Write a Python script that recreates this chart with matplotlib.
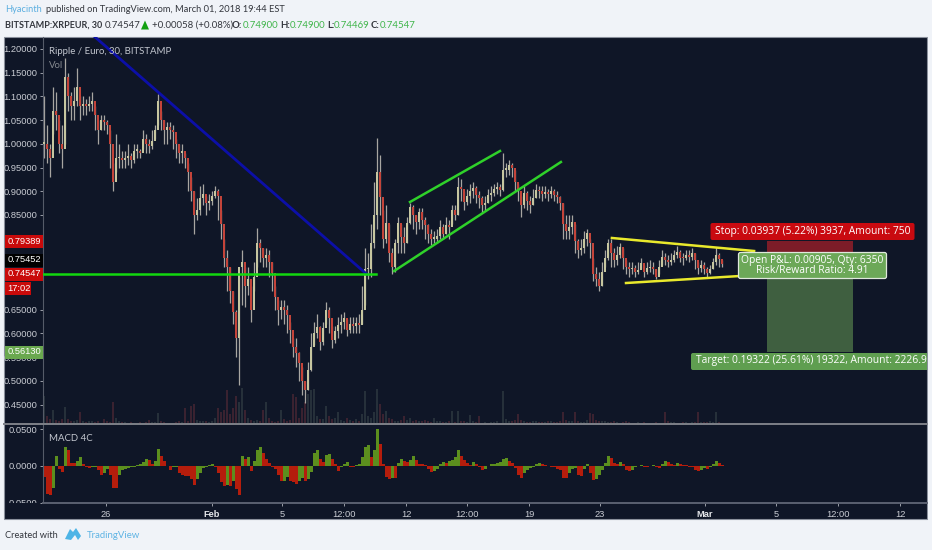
import matplotlib
matplotlib.use("Agg")
import matplotlib.pyplot as plt
import numpy as np
from matplotlib.patches import Rectangle, FancyBboxPatch, Polygon
from matplotlib.transforms import Affine2D, Bbox

W, H = 932, 550
BAR_PX, BAR0_PX = 3.0, 44.0

closes = [1.00,.99,.97,1.07,1.06,1.00,.99,1.14,1.10,1.08,
 1.09,1.12,1.08,1.085,1.08,1.085,1.09,1.06,1.03,1.05,
 1.045,1.04,1.00,.92,.97,.97,.965,.97,.975,.965,
 .985,.985,.98,1.01,1.00,.995,1.005,1.03,1.09,1.05,
 1.03,1.035,1.03,1.025,1.00,.98,.985,.97,.94,.90,
 .85,.86,.885,.895,.875,.88,.89,.90,.89,.83,
 .76,.74,.69,.645,.59,.74,.75,.70,.715,.65,
 .72,.79,.78,.76,.765,.75,.727,.677,.65,.656,
 .65,.639,.607,.571,.558,.537,.50,.48,.523,.571,
 .60,.614,.582,.612,.65,.633,.586,.605,.618,.625,
 .633,.607,.62,.615,.622,.618,.65,.735,.735,.79,
 .85,.94,.888,.80,.833,.77,.74,.79,.833,.803,
 .79,.833,.867,.85,.835,.856,.84,.829,.81,.80,
 .80,.805,.825,.81,.829,.825,.86,.85,.909,.905,
 .877,.89,.90,.907,.892,.885,.871,.875,.892,.896,
 .905,.909,.903,.945,.945,.955,.949,.92,.90,.87,
 .896,.88,.871,.885,.903,.90,.895,.899,.895,.90,
 .892,.888,.875,.83,.815,.825,.835,.795,.775,.78,
 .80,.812,.79,.725,.715,.70,.73,.76,.79,.77,
 .755,.765,.782,.76,.74,.735,.738,.73,.734,.749,
 .73,.738,.74,.735,.72,.74,.762,.755,.751,.755,
 .765,.772,.76,.759,.765,.762,.77,.755,.738,.744,
 .735,.727,.735,.75,.765,.757,.74547]
highs = [1.10,1.04,1.00,1.12,1.11,1.05,1.04,1.18,1.15,1.11,
 1.12,1.16,1.10,1.10,1.095,1.10,1.11,1.08,1.05,1.06,
 1.06,1.05,1.03,.96,1.02,1.00,.985,.985,1.00,.98,
 1.00,1.00,.99,1.03,1.02,1.01,1.03,1.04,1.105,1.07,
 1.05,1.045,1.045,1.04,1.01,1.00,1.00,.98,.96,.93,
 .90,.885,.91,.915,.89,.895,.90,.91,.905,.86,
 .80,.776,.74,.69,.65,.72,.775,.74,.74,.70,
 .75,.822,.80,.78,.78,.775,.75,.70,.67,.67,
 .67,.66,.625,.59,.59,.56,.53,.50,.54,.60,
 .625,.64,.615,.625,.667,.655,.615,.615,.635,.64,
 .645,.63,.635,.635,.635,.64,.70,.78,.77,.83,
 .92,1.012,.976,.86,.87,.83,.78,.80,.845,.83,
 .825,.845,.875,.87,.85,.865,.865,.845,.83,.82,
 .815,.82,.84,.83,.845,.84,.87,.87,.93,.925,
 .90,.905,.915,.92,.91,.90,.89,.89,.905,.91,
 .915,.92,.915,.98,.96,.965,.96,.945,.915,.89,
 .91,.90,.89,.905,.915,.912,.91,.91,.905,.912,
 .905,.90,.89,.875,.85,.85,.85,.83,.80,.80,
 .815,.82,.80,.76,.74,.73,.75,.775,.80,.80,
 .78,.785,.79,.78,.755,.75,.75,.745,.75,.76,
 .745,.75,.755,.75,.735,.755,.775,.77,.765,.77,
 .775,.785,.775,.77,.775,.775,.78,.77,.75,.755,
 .75,.74,.745,.76,.782,.77,.755]
lows = [.97,.96,.93,1.02,1.03,.98,.95,1.00,1.07,1.05,
 1.05,1.08,1.05,1.06,1.06,1.07,1.07,1.03,1.00,1.03,
 1.03,1.02,.95,.90,.94,.95,.95,.95,.955,.95,
 .96,.97,.97,.99,.98,.98,.99,1.01,1.04,1.03,
 1.00,1.00,1.01,.99,.97,.96,.96,.95,.90,.88,
 .81,.84,.85,.87,.85,.86,.87,.885,.84,.80,
 .74,.69,.665,.62,.55,.492,.66,.655,.68,.624,
 .69,.74,.75,.74,.74,.72,.69,.65,.618,.63,
 .62,.60,.58,.55,.53,.50,.47,.453,.48,.52,
 .575,.59,.565,.575,.62,.60,.57,.58,.59,.60,
 .61,.595,.60,.60,.60,.60,.62,.66,.715,.72,
 .78,.82,.85,.78,.79,.75,.725,.73,.77,.77,
 .77,.79,.83,.82,.81,.82,.82,.80,.79,.787,
 .79,.79,.80,.80,.81,.80,.83,.84,.85,.88,
 .86,.87,.875,.885,.875,.865,.856,.86,.875,.88,
 .89,.895,.89,.90,.93,.935,.93,.90,.88,.846,
 .865,.86,.855,.87,.885,.885,.88,.885,.88,.885,
 .88,.875,.86,.80,.80,.80,.81,.77,.76,.765,
 .77,.785,.76,.71,.70,.69,.70,.74,.755,.74,
 .74,.745,.76,.735,.725,.72,.725,.72,.725,.735,
 .72,.725,.73,.725,.715,.725,.745,.745,.74,.745,
 .75,.76,.75,.745,.755,.75,.755,.735,.725,.73,
 .725,.72,.725,.735,.745,.74,.74]
volumes = [28,8,5,14,4,3,5,17,5,3,
 3,4,12,3,2,3,3,2,3,1,
 5,3,2,22,6,3,2,2,1,2,
 1,1,2,1,2,4,2,2,11,3,
 2,1,1,1,2,3,2,16,3,18,
 20,4,3,3,3,2,3,6,16,12,
 14,34,10,16,28,22,36,14,6,4,
 3,4,3,14,22,6,3,2,3,14,
 5,3,4,30,27,6,16,22,30,34,
 35,8,5,5,18,8,5,6,12,4,
 3,6,4,3,5,3,10,33,8,6,
 12,35,20,10,13,6,5,3,3,4,
 8,4,6,3,4,3,3,4,3,2,
 6,3,3,2,2,3,13,2,13,3,
 3,2,9,3,2,8,1,2,1,2,
 2,3,1,33,5,3,3,4,10,4,
 3,2,2,3,3,2,2,2,3,3,
 2,2,3,12,4,3,3,12,3,2,
 2,4,11,10,4,3,3,3,2,2,
 3,2,1,2,3,2,1,1,2,1,
 2,1,1,1,2,1,1,12,3,2,
 2,1,1,2,2,1,2,2,12,2,
 2,2,3,2,12,2,1]
macd = [-.015,-.038,-.040,-.030,.013,-.004,-.008,.026,.022,.004,
 .004,.007,.012,.002,-.002,-.003,-.002,-.001,-.005,-.013,
 -.010,-.004,-.012,-.030,-.030,-.012,-.005,-.004,-.003,-.002,
 -.001,.001,.003,.005,.009,.008,.002,.006,.023,.014,
 .006,.000,-.005,-.002,-.001,-.010,-.013,-.014,-.014,-.018,
 -.026,-.018,-.010,-.003,-.001,.001,.002,-.002,-.010,-.022,
 -.027,-.026,-.027,-.020,-.032,-.040,.014,.009,.012,-.007,
 .006,.022,.025,.018,.010,.004,-.002,-.004,-.012,-.021,
 -.020,-.015,-.020,-.022,-.025,-.020,-.016,-.021,-.018,-.008,
 .018,.021,.010,.005,.015,.016,.010,.002,-.007,-.002,
 .002,.005,-.001,-.002,.001,.002,.012,.026,.028,.012,
 .022,.050,.030,.002,-.015,-.018,-.016,-.016,.004,.010,
 .006,.005,.008,.014,.008,.002,.002,.001,-.004,-.008,
 -.007,-.004,.002,.005,.004,.006,.008,.012,.021,.014,
 .008,.004,.001,.005,.002,-.001,-.005,-.004,.000,.002,
 .003,.004,.005,.010,.011,.006,.004,-.003,-.012,-.017,
 -.010,-.005,-.003,-.001,.003,.004,.003,.001,.000,-.001,
 -.002,-.004,-.006,-.016,-.017,-.010,-.004,-.003,-.012,-.014,
 -.004,.003,-.010,-.019,-.018,-.012,-.006,.004,.013,.011,
 .004,.003,.005,.002,-.005,-.007,-.006,-.002,.000,.001,
 -.001,-.002,.000,.001,-.001,-.003,.002,.007,.005,.002,
 .001,.004,.002,.001,.001,-.001,-.002,-.005,-.007,-.005,
 -.003,-.004,-.002,.002,.006,.004,.001]

price_ticks = [1.20,1.15,1.10,1.05,1.00,.95,.90,.85,.65,.60,.55,.50,.45]
macd_ticks = [.05,0.0,-.05]
time_tick_bars = [20.67,56,79.33,100,120.67,141,161.67,185.33,220.33,244,264.67,285.33]
time_tick_labels = ['26','Feb','5','12:00','12','12:00','19','23','Mar','5','12:00','12']

blue_bars, blue_prices = [17.0,107.5], [1.2253,.7253]
level_bars, level_prices = [-0.5,110.5], [.7253,.7253]
chan_low_bars, chan_low_prices = [116.7,172.3], [.7316,.9616]
chan_up_bars, chan_up_prices = [122,152], [.8772,.9848]
wedge_up_bars, wedge_up_prices = [189.3,236.7], [.8013,.7738]
wedge_low_bars, wedge_low_prices = [194,232], [.7063,.7211]
pos_bars = [241,269.7]
stop_price, entry_price, target_price = .79389, .75452, .56130

BG, CHART, GRID = '#f0f3f8', '#0f1627', '#555b68'
TXT = '#c9ccd3'
NARROW = ['Lato', 'DejaVu Sans']
ARIAL = ['Liberation Sans', 'DejaVu Sans']
plt.rcParams['font.family'] = ['Open Sans', 'DejaVu Sans']

fig = plt.figure(figsize=(W/100, H/100), dpi=100, facecolor=BG)
px = Affine2D().scale(1/W, -1/H).translate(0, 1) + fig.transFigure

def axes_px(x0, y0, x1, y1, **kw):
    return fig.add_axes([x0/W, 1-y1/H, (x1-x0)/W, (y1-y0)/H], **kw)

fig.add_artist(Rectangle((4, 37), 923, 482, transform=px, fc=CHART, ec='#8a909c', lw=0.8, zorder=-5))

ax = axes_px(43, 37, 927, 423.5)
ax.set_facecolor('none')
xlim = ((43-BAR0_PX)/BAR_PX, (927-BAR0_PX)/BAR_PX)
ax.set_xlim(xlim)
ax.set_ylim(1.2-(423.5-49)/474, 1.2+12/474)

vol = axes_px(43, 37, 927, 423.5)
vol.set_facecolor('none')
vol.set_xlim(xlim); vol.set_ylim(0, 386.5); vol.axis('off')
vol.set_zorder(0); ax.set_zorder(1)

idx = np.arange(len(closes))
c = np.array(closes); o = np.r_[c[0], c[:-1]]
up = c >= o
vol.bar(idx, volumes, width=0.8, color=np.where(up, '#26303a', '#3a2230'), lw=0)

ax.vlines(idx, lows, highs, color='#a8a6a2', lw=0.9, zorder=2)
ax.bar(idx, np.abs(c-o).clip(.003), bottom=np.minimum(c, o), width=0.62,
       color=np.where(up, '#c6c6a0', '#c4443a'), lw=0, zorder=3)

ax.add_patch(Rectangle((pos_bars[0], entry_price), pos_bars[1]-pos_bars[0], stop_price-entry_price,
                       fc='#7c1c28', ec='none', zorder=4))
ax.add_patch(Rectangle((pos_bars[0], target_price), pos_bars[1]-pos_bars[0], entry_price-target_price,
                       fc='#3f5f40', ec='none', zorder=4))

ax.plot(blue_bars, blue_prices, color='#0c0fa8', lw=2.0, zorder=5)
ax.plot(level_bars, level_prices, color='#12d80f', lw=1.8, zorder=5)
ax.plot(chan_low_bars, chan_low_prices, color='#2fd12a', lw=1.8, zorder=5)
ax.plot(chan_up_bars, chan_up_prices, color='#2fd12a', lw=1.8, zorder=5)
ax.plot(wedge_up_bars, wedge_up_prices, color='#e9e92c', lw=1.8, zorder=5)
ax.plot(wedge_low_bars, wedge_low_prices, color='#e9e92c', lw=1.8, zorder=5)

ax.set_yticks(price_ticks)
ax.set_yticklabels([f'{v:.5f}' for v in price_ticks])
ax.set_xticks([])
ax.tick_params(axis='y', length=2, width=0.7, color='#9a9ea8', labelcolor=TXT, labelsize=6.7, pad=2)
for t in ax.get_yticklabels():
    t.set_fontfamily(ARIAL)
for s in ('top', 'right', 'bottom'):
    ax.spines[s].set_visible(False)
ax.spines['left'].set_color(GRID)

m = axes_px(43, 425, 927, 502.7)
m.set_facecolor('none')
m.set_xlim(xlim)
m.set_ylim(-.0497, .05+4/36.5*.05)
mv = np.array(macd)
rise = np.r_[False, np.diff(mv) > 0]
m.bar(idx, mv, width=1.0, color=np.where(rise, '#5c8f1e', '#b51d0c'), lw=0)
m.set_yticks(macd_ticks)
m.set_yticklabels([f'{abs(v):.4f}' for v in macd_ticks])
m.tick_params(axis='y', length=2, width=0.7, color='#9a9ea8', labelcolor=TXT, labelsize=6.7, pad=2)
clip = Bbox([[4, H-503.0], [44, H]])
for t in m.get_yticklabels():
    t.set_fontfamily(ARIAL)
    t.set_clip_box(clip)
    t.set_clip_on(True)
m.set_xticks(time_tick_bars)
m.set_xticklabels(time_tick_labels)
m.tick_params(axis='x', length=2, width=0.7, color='#9a9ea8', labelcolor=TXT, labelsize=6.7, pad=3)
for t in m.get_xticklabels():
    t.set_fontfamily(ARIAL)
    if t.get_text() in ('Feb', 'Mar'):
        t.set_fontweight('bold')
        t.set_color('#e4e6ea')
for s in ('top', 'right'):
    m.spines[s].set_visible(False)
m.spines['left'].set_color(GRID)
m.spines['bottom'].set_color('#5b6170')
m.spines['bottom'].set_linewidth(1.4)

fig.add_artist(plt.Line2D([4, 927], [424.3, 424.3], transform=px, color='#7d8088', lw=1.4))

def tx(x, y, s, color='#33363d', size=7.6, **kw):
    kw.setdefault('va', 'center')
    return fig.text(x, y, s, transform=px, color=color, fontsize=size, **kw)

def tag(y_center, text, fc, x1=42.5):
    fig.add_artist(Rectangle((5, y_center-6.5), x1-5, 13, transform=px, fc=fc, ec='none', zorder=6))
    tx(7.5, y_center, text, color='white', size=6.7, family=ARIAL, zorder=7)

tx(5, 10, 'Hyacinth', color='#5aaee0', size=6.7, family=NARROW)
tx(45.5, 10, 'published on TradingView.com, March 01, 2018 19:44 EST', size=6.65, family=NARROW)
tx(5, 25, 'BITSTAMP:XRPEUR, 30', size=6.45, fontweight='bold', family=NARROW)
tx(105, 25, '0.74547', size=6.9, family=NARROW)
fig.add_artist(Polygon([[141, 29.5], [149, 29.5], [145, 20.5]], transform=px, fc='#12a012', ec='none'))
tx(152, 25, '+0.00058 (+0.08%)', size=6.9, family=NARROW)
for xa, xb, lab, val in [(232, 243, 'O:', '0.74900'), (280, 290, 'H:', '0.74900'),
                         (327, 334, 'L:', '0.74469'), (371, 380, 'C:', '0.74547')]:
    tx(xa, 25, lab, size=6.9, fontweight='bold', family=NARROW)
    tx(xb, 25, val, color='#3fb54a', size=6.9, family=NARROW)

tx(49, 51, 'Ripple / Euro, 30, BITSTAMP', color='#c3c7cf', size=6.95, family=NARROW)
tx(49, 66, 'Vol', color='#85898f', size=6.95, family=NARROW)
tx(49, 438.5, 'MACD 4C', color='#c3c7cf', size=6.95, family=NARROW)

tag(241, '0.79389', '#c90a0a')
tag(260, '0.75452', '#000000')
tag(274, '0.74547', '#c90a0a')
tag(288.5, '17:02', '#c90a0a', x1=30.5)
tag(352, '0.56130', '#6aa84f')

fig.add_artist(FancyBboxPatch((712, 224.5), 201, 14, boxstyle='round,pad=1.5,rounding_size=2',
                              transform=px, fc='#c90a10', ec='none', zorder=6))
tx(812.5, 231.5, 'Stop: 0.03937 (5.22%) 3937, Amount: 750', color='white', size=7.4, ha='center', zorder=7)
fig.add_artist(FancyBboxPatch((739.5, 253.5), 146, 24, boxstyle='round,pad=1.0,rounding_size=2',
                              transform=px, fc='#6ca858', ec='#dfe8dc', lw=0.9, zorder=6))
tx(812.5, 260.5, 'Open P&L: 0.00905, Qty: 6350', color='white', size=7.4, ha='center', zorder=7)
tx(812.5, 270.5, 'Risk/Reward Ratio: 4.91', color='white', size=7.4, ha='center', zorder=7)
tgt_clip = Bbox([[0, 0], [927, H]])
fig.add_artist(FancyBboxPatch((692.5, 354.5), 250, 14, boxstyle='round,pad=1.5,rounding_size=2',
                              transform=px, fc='#5f9e50', ec='none', zorder=6, clip_box=tgt_clip, clip_on=True))
t = tx(696, 361, 'Target: 0.19322 (25.61%) 19322, Amount: 2226.95', color='white', size=7.4, zorder=7)
t.set_clip_box(tgt_clip); t.set_clip_on(True)

fig.add_artist(Rectangle((927.6, 37), 4.4, 482, transform=px, fc=BG, ec='none', zorder=8))

tx(5, 535, 'Created with', size=6.7, family=NARROW)
fig.add_artist(Polygon([[65, 539], [70, 529], [73, 532], [76, 528], [81, 536], [78, 540], [75, 535], [71, 540]],
                       transform=px, fc='#4db4e6', ec='none'))
tx(87, 535, 'TradingView', color='#5fb4e4', size=6.9, family=NARROW)

fig.savefig('out.png', dpi=100, facecolor=BG)
